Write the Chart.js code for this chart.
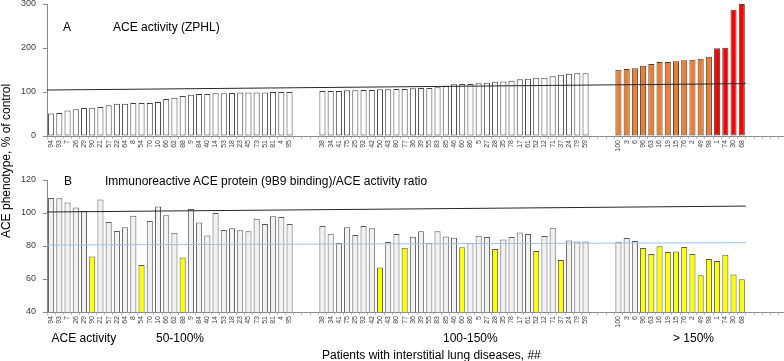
<!DOCTYPE html>
<html lang="en">
<head>
<meta charset="UTF-8">
<title>ACE phenotype in interstitial lung diseases</title>
<style>
    html, body {
        margin: 0;
        padding: 0;
        background: #fff;
        overflow: hidden;
    }
    body {
        width: 784px;
        height: 361px;
        position: relative;
        font-family: Arial, "Liberation Sans", sans-serif;
        color: #000;
    }
    .box { position: absolute; left: 0; width: 787px; }
    #boxA { top: 0; height: 165px; }
    #boxB { top: 166px; height: 175px; }
    .txt {
        position: absolute;
        font-size: 12px;
        line-height: 12px;
        white-space: nowrap;
    }
    #ytitle {
        left: -94px;
        top: 154.5px;
        width: 200px;
        text-align: center;
        transform: rotate(-90deg);
    }
</style>
</head>
<body>
<div class="box" id="boxA"><canvas id="chartA"></canvas></div>
<div class="box" id="boxB"><canvas id="chartB"></canvas></div>

<div class="txt" style="left:63px; top:20.5px;">A</div>
<div class="txt" style="left:113px; top:20.5px;">ACE activity (ZPHL)</div>
<div class="txt" style="left:64px; top:174.5px;">B</div>
<div class="txt" style="left:105px; top:174.5px;">Immunoreactive ACE protein (9B9 binding)/ACE activity ratio</div>
<div class="txt" id="ytitle">ACE phenotype, % of control</div>
<div class="txt" style="left:51.5px; top:331.5px;">ACE activity</div>
<div class="txt" style="left:156px; top:331.5px;">50-100%</div>
<div class="txt" style="left:443px; top:332px;">100-150%</div>
<div class="txt" style="left:673px; top:332px;">&gt; 150%</div>
<div class="txt" style="left:322px; top:348.5px;">Patients with interstitial lung diseases, ##</div>

<script src="https://cdn.jsdelivr.net/npm/chart.js"></script>
<script>
    // patient numbers in each ACE activity group (order as in the figure)
    const idsLow = ['94','93','7','26','29','90','21','57','22','64','8','54','70','10','66','62','88','9','84','40','14','53','18','23','45','73','51','81','4','95'];
    const idsMid = ['38','34','41','75','25','92','42','50','43','80','77','36','39','55','83','85','46','60','86','5','27','28','35','78','17','61','52','12','71','37','24','79','59'];
    const idsHigh = ['100','3','6','96','63','16','19','15','76','2','49','98','1','74','30','68'];

    // A: ACE activity (ZPHL), % of control
    const activityLow = [51,52,58,60.6,63.6,64,66,69.7,73.5,73.5,75,75,75,77,84,87,91,94,95.5,95.5,97,97,97.7,99,99,99,99,100,100,100];
    const activityMid = [102,102.5,102.5,104,104,104.5,104.5,106,106,107,107,108.3,109,109,111,113.6,117.4,118,118,119.7,121,123.5,124,125.7,128.8,130.3,132.6,132.6,135.6,139.4,141.7,142.4,142.4];
    const activityHigh = [150.8,152.3,153.8,159.8,163.6,168.2,168,169.7,171.9,173.5,175.8,180.3,199.2,200.8,287,300];

    // B: 9B9 binding / ACE activity ratio, % of control
    const ratioLow = [109.1,109,106.4,103.4,101.2,73.7,108.2,94.5,89.1,91.3,98.4,68.5,95.2,104,98.6,88,73.1,102.4,94.3,86.4,100,89.7,90.7,89.5,88.9,96.5,93.3,98,97.6,93.3];
    const ratioMid = [92.1,87.5,81.8,91.3,86.7,92.1,90.7,67,82.4,87.3,79,85.6,88.9,81.8,88.9,85.8,85,79.2,81.6,86.2,85.4,78.2,84,85.4,88.2,87.3,77,86,91.1,71.5,83.4,82.8,82.8];
    const ratioHigh = [82.6,84.8,83,78.8,75.2,79.8,76.4,76.7,79.4,75.2,62.2,72.1,70.9,74.7,62.8,59.8];

    // trend lines (start, end) and the 80% reference in B
    const trendA = [104.5, 119];
    const trendB = [100.6, 104.2];
    const refB = [80.6, 82];

    const GAP = 3;   // empty slots between groups
    const TAIL = 5;  // empty slots after the last group

    function joinGroups(a, b, c, fill) {
        return [].concat(a, Array(GAP).fill(fill), b, Array(GAP).fill(fill), c, Array(TAIL).fill(fill));
    }

    const labels = joinGroups(idsLow, idsMid, idsHigh, '');
    const activity = joinGroups(activityLow, activityMid, activityHigh, null);
    const ratio = joinGroups(ratioLow, ratioMid, ratioHigh, null);
    const lastBar = idsLow.length + idsMid.length + idsHigh.length + 2 * GAP - 1;

    const colorA = activity.map(v => v == null ? '#fff' : (v >= 190 ? '#ff0000' : (v > 150 ? '#ed7d31' : '#ffffff')));
    const colorB = ratio.map(v => v == null ? '#fff' : (v < 80 ? '#ffff00' : '#f2f2f2'));

    function lineSet(pair, color) {
        return {
            type: 'line',
            xAxisID: 'xt',
            data: [{ x: -0.5, y: pair[0] }, { x: lastBar + 0.5, y: pair[1] }],
            borderColor: color,
            borderWidth: 1,
            pointRadius: 0,
            fill: false,
            order: 0
        };
    }

    function noPad(scale) {
        scale.paddingLeft = 0;
        scale.paddingRight = 0;
        scale.paddingTop = 0;
        scale.paddingBottom = 0;
    }

    function makeChart(id, values, colors, border, yMin, yMax, step, lines) {
        const ctx = document.getElementById(id).getContext('2d');
        return new Chart(ctx, {
            type: 'bar',
            data: {
                labels: labels,
                datasets: [{
                    data: values,
                    backgroundColor: colors,
                    borderColor: border,
                    borderWidth: 1,
                    borderSkipped: false,
                    grouped: false,
                    barPercentage: 0.74,
                    categoryPercentage: 1,
                    order: 1
                }].concat(lines)
            },
            options: {
                responsive: true,
                maintainAspectRatio: false,
                animation: false,
                devicePixelRatio: 1,
                layout: { padding: { top: id === 'chartA' ? 4 : 14, left: 0, right: 0, bottom: 0 } },
                plugins: { legend: { display: false }, tooltip: { enabled: false } },
                scales: {
                    x: {
                        offset: true,
                        grid: { display: true, offset: true, drawOnChartArea: false, tickLength: 3, color: '#bfbfbf' },
                        border: { color: '#8c8c8c' },
                        ticks: {
                            autoSkip: false,
                            minRotation: 90,
                            maxRotation: 90,
                            padding: 1,
                            color: '#404040',
                            font: { family: 'Arial', size: 7 }
                        },
                        afterFit: function(scale) {
                            scale.height = 29;
                            noPad(scale);
                        }
                    },
                    xt: {
                        type: 'linear',
                        display: false,
                        offset: false,
                        bounds: 'data',
                        grid: { display: false, offset: false },
                        ticks: { display: false },
                        min: -0.5,
                        max: labels.length - 0.5,
                        afterFit: noPad
                    },
                    y: {
                        min: yMin,
                        max: yMax,
                        grid: { display: true, drawOnChartArea: false, tickLength: 4, color: '#8c8c8c' },
                        border: { color: '#8c8c8c' },
                        ticks: {
                            stepSize: step,
                            padding: 7,
                            color: '#404040',
                            font: { family: 'Arial', size: 9 }
                        },
                        afterFit: function(scale) {
                            scale.width = 47;
                            noPad(scale);
                        }
                    }
                }
            }
        });
    }

    makeChart('chartA', activity, colorA, '#404040', 0, 300, 100, [lineSet(trendA, '#262626')]);
    makeChart('chartB', ratio, colorB, '#595959', 40, 120, 20, [lineSet(trendB, '#262626'), lineSet(refB, '#9dc3e6')]);
</script>
</body>
</html>
